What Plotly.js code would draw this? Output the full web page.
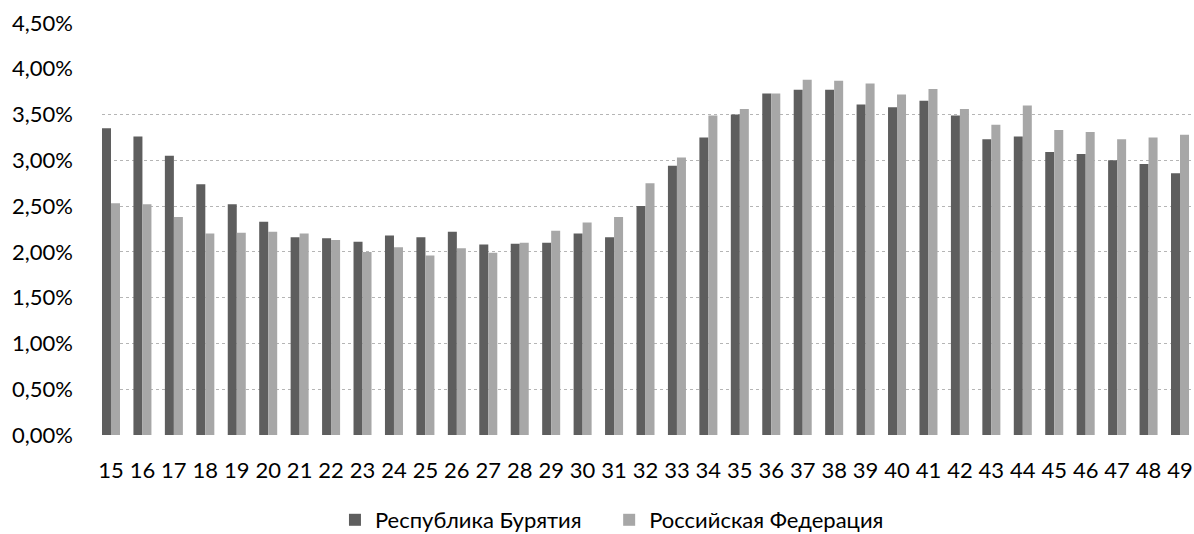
<!DOCTYPE html>
<html>
<head>
<meta charset="utf-8">
<script src="https://cdn.plot.ly/plotly-3.0.1.min.js"></script>
<style>html,body{margin:0;padding:0;background:#fff;}#chart{width:1194px;height:534px;}</style>
</head>
<body>
<div id="chart"></div>
<script>
const ages = ["15","16","17","18","19","20","21","22","23","24","25","26","27","28","29","30","31","32","33","34","35","36","37","38","39","40","41","42","43","44","45","46","47","48","49"];
const buryatia = [3.35,3.26,3.05,2.74,2.52,2.33,2.16,2.15,2.11,2.18,2.16,2.22,2.08,2.09,2.10,2.20,2.16,2.50,2.94,3.25,3.50,3.73,3.77,3.77,3.61,3.58,3.65,3.49,3.23,3.26,3.09,3.07,3.00,2.96,2.86];
const russia = [2.53,2.52,2.38,2.20,2.21,2.22,2.20,2.13,2.00,2.05,1.96,2.04,1.99,2.10,2.23,2.32,2.38,2.75,3.03,3.49,3.56,3.73,3.88,3.87,3.84,3.72,3.78,3.56,3.39,3.60,3.33,3.31,3.23,3.25,3.28];
const seriesNames = ["Республика Бурятия","Российская Федерация"];
const yTicks = [0,0.5,1,1.5,2,2.5,3,3.5,4,4.5];
const gridTicks = [0.5,1,1.5,2,2.5,3,3.5];

const fmt = v => v.toFixed(2).replace('.', ',') + '%';
const font = {family: 'Lato, "Open Sans", sans-serif', color: '#000'};
const pad = '\u00a0\u00a0\u00a0\u00a0';

const traces = [
  {type:'bar', x: ages, y: buryatia, name: seriesNames[0] + pad, marker:{color:'#5e5e5e'}, hoverinfo:'none'},
  {type:'bar', x: ages, y: russia, name: seriesNames[1], marker:{color:'#a7a7a7'}, hoverinfo:'none'},
  {type:'scatter', x:[ages[0]], y:[0], yaxis:'y2', showlegend:false, mode:'none', hoverinfo:'none'}
];

const layout = {
  width:1194, height:534,
  margin:{l:102, r:0, t:23, b:99, autoexpand:false},
  paper_bgcolor:'#fff', plot_bgcolor:'rgba(0,0,0,0)',
  barmode:'group', bargap:0.427, bargroupgap:0,
  font: Object.assign({size:22}, font),
  showlegend:true,
  legend:{orientation:'h', x:0.467, xanchor:'center', y:-0.2063, yanchor:'middle', font:Object.assign({size:22}, font), itemwidth:30, tracegroupgap:0, traceorder:'normal'},
  xaxis:{type:'category', range:[-0.286, 34.445], showgrid:false, zeroline:false, showline:false, ticks:'', tickfont:Object.assign({size:22}, font), ticklabelstandoff:20, fixedrange:true, automargin:false},
  yaxis:{range:[0,4.5], tickvals:yTicks, ticktext:yTicks.map(fmt), showgrid:false, zeroline:false, showline:false, ticks:'', tickfont:Object.assign({size:22}, font), ticklabelstandoff:28, fixedrange:true, automargin:false},
  yaxis2:{overlaying:'y', range:[0,4.5], tickvals:gridTicks, showticklabels:false, showgrid:true, gridcolor:'#b5b5b5', griddash:'dot', gridwidth:1, zeroline:false, showline:false, ticks:'', fixedrange:true},
};

Plotly.newPlot('chart', traces, layout, {displayModeBar:false, staticPlot:true});
</script>
</body>
</html>
